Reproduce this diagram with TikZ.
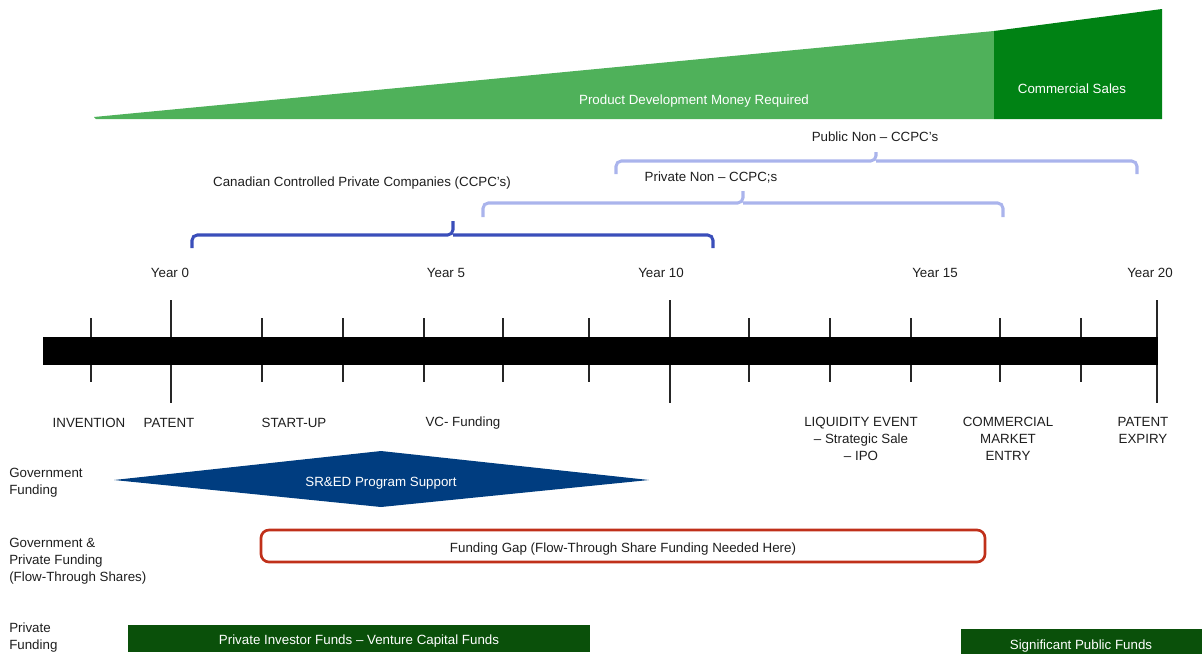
\documentclass[tikz,border=0pt]{standalone}
\usepackage{fontspec}
\setmainfont{Liberation Sans}
\definecolor{lgreen}{RGB}{79,177,90}
\definecolor{dgreen}{RGB}{0,130,20}
\definecolor{fgreen}{RGB}{10,80,10}
\definecolor{lblue}{RGB}{170,180,236}
\definecolor{dblue}{RGB}{58,78,186}
\definecolor{navy}{RGB}{0,61,128}
\definecolor{gapred}{RGB}{192,48,26}
\definecolor{txt}{RGB}{30,30,30}
\begin{document}
\begin{tikzpicture}[x=0.75pt,y=-0.75pt,
  lbl/.style={font=\fontsize{10}{12.75}\selectfont, text=txt, inner sep=0pt, align=center, yshift=-1.3pt},
  leftlbl/.style={font=\fontsize{10}{12.75}\selectfont, text=txt, inner sep=0pt, align=left, anchor=north west},
  wlbl/.style={font=\fontsize{10}{12.75}\selectfont, text=white, inner sep=0pt, align=center, yshift=-1.3pt},
  bracelight/.style={draw=lblue, line width=2.3pt, rounded corners=4pt},
  bracedark/.style={draw=dblue, line width=2.3pt, rounded corners=4pt},
  tick/.style={draw=black!85, line width=1pt}]
\useasboundingbox (0,0) rectangle (1202,654);
% top wedge
\fill[lgreen] (94,117) -- (994,31) -- (994,119) -- (96,119) -- cycle;
\fill[dgreen] (994,31) -- (1162,9) -- (1162,119) -- (994,119) -- cycle;
\node[wlbl] (pdm) at (694,99) {Product Development Money Required};
\node[wlbl] (cs) at (1072,87) {Commercial Sales};
% braces
\node[lbl] (pub) at (875,135) {Public Non – CCPC’s};
\draw[bracelight] (616,174) |- (876,161) -- (876,152);
\draw[bracelight] (876,161) -| (1137,174);
\node[lbl] (priv) at (711,176) {Private Non – CCPC;s};
\draw[bracelight] (483,217) |- (743,203) -- (743,191);
\draw[bracelight] (743,203) -| (1003,217);
\node[lbl] (ccpc) at (362,181) {Canadian Controlled Private Companies (CCPC’s)};
\draw[bracedark] (192,248) |- (453,235) -- (453,221);
\draw[bracedark] (453,235) -| (713,248);
% years
\node[lbl] (y0) at (170,271) {Year 0};
\node[lbl] (y5) at (446,271) {Year 5};
\node[lbl] (y10) at (661,271) {Year 10};
\node[lbl] (y15) at (935,271) {Year 15};
\node[lbl] (y20) at (1150,271) {Year 20};
% timeline
\foreach \x in {91,262,343,424,503,589,749,830,911,1000,1081}
  \draw[tick] (\x,318) -- (\x,382);
\foreach \x in {171,670,1157}
  \draw[tick] (\x,300) -- (\x,403);
\fill[black] (43,337) rectangle (1158,365);
% events
\node[lbl] (inv) at (89,421) {INVENTION};
\node[lbl] (pat) at (169,421) {PATENT};
\node[lbl] (st) at (294,421) {START-UP};
\node[lbl] (vc) at (463,421) {VC- Funding};
\node[lbl, anchor=north] (liq) at (861,415) {LIQUIDITY EVENT\\– Strategic Sale\\– IPO};
\node[lbl, anchor=north] (cme) at (1008,415) {COMMERCIAL\\MARKET\\ENTRY};
\node[lbl, anchor=north] (pe) at (1143,415) {PATENT\\EXPIRY};
% left labels
\node[leftlbl] (gf) at (9,468) {Government\\Funding};
\node[leftlbl] (gpf) at (9,538) {Government \&\\Private Funding\\(Flow-Through Shares)};
\node[leftlbl] (pf) at (9,623) {Private\\Funding};
% SR&ED diamond
\fill[navy] (114,480) -- (381,451) -- (649,480) -- (381,507) -- cycle;
\node[wlbl] (sred) at (381,481) {SR\&ED Program Support};
% funding gap
\draw[gapred, line width=2pt, rounded corners=6pt] (261,530) rectangle (985,562);
\node[lbl] (gap) at (623,547) {Funding Gap (Flow-Through Share Funding Needed Here)};
% bottom bars
\fill[fgreen] (128,625) rectangle (590,652);
\node[wlbl] (pif) at (359,639) {Private Investor Funds – Venture Capital Funds};
\fill[fgreen] (961,629) rectangle (1202,654);
\node[wlbl] (spf) at (1081,644) {Significant Public Funds};
\end{tikzpicture}
\end{document}
